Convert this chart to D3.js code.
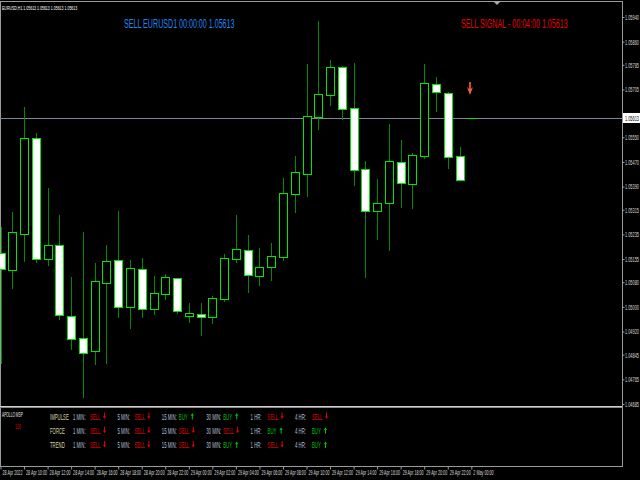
<!DOCTYPE html>
<html><head><meta charset="utf-8">
<script src="https://cdn.jsdelivr.net/npm/d3@7"></script>
<style>html,body{margin:0;padding:0;background:#000;overflow:hidden}svg{display:block}</style>
</head><body>
<script>
// ---------- DATA ----------
const symbol = "EURUSD,H1";
const times = ["28 Apr 08:00","28 Apr 09:00","28 Apr 10:00","28 Apr 11:00","28 Apr 12:00","28 Apr 13:00","28 Apr 14:00","28 Apr 15:00",
"28 Apr 16:00","28 Apr 17:00","28 Apr 18:00","28 Apr 19:00","28 Apr 20:00","28 Apr 21:00","28 Apr 22:00","28 Apr 23:00",
"29 Apr 00:00","29 Apr 01:00","29 Apr 02:00","29 Apr 03:00","29 Apr 04:00","29 Apr 05:00","29 Apr 06:00","29 Apr 07:00",
"29 Apr 08:00","29 Apr 09:00","29 Apr 10:00","29 Apr 11:00","29 Apr 12:00","29 Apr 13:00","29 Apr 14:00","29 Apr 15:00",
"29 Apr 16:00","29 Apr 17:00","29 Apr 18:00","29 Apr 19:00","29 Apr 20:00","29 Apr 21:00","29 Apr 22:00","29 Apr 23:00",
"2 May 00:00"];
const opens  = [1.05175,1.05120,1.05236,1.05548,1.05155,1.05201,1.04970,1.04899,1.04857,1.05077,1.05152,1.05000,1.05123,1.04993,1.05042,1.05094,1.04970,1.04977,1.04967,1.05026,1.05155,1.05184,1.05100,1.05129,1.05162,1.05366,1.05431,1.05616,1.05687,1.05778,1.05645,1.05447,1.05311,1.05337,1.05470,1.05398,1.05489,1.05723,1.05694,1.05489,1.05613];
const highs  = [1.05259,1.05308,1.05648,1.05564,1.05385,1.05298,1.05097,1.05243,1.05142,1.05201,1.05311,1.05152,1.05158,1.05100,1.05107,1.05094,1.05013,1.05013,1.05035,1.05171,1.05298,1.05233,1.05191,1.05207,1.05418,1.05489,1.05788,1.05927,1.05801,1.05781,1.05791,1.05473,1.05415,1.05593,1.05541,1.05499,1.05788,1.05745,1.05697,1.05518,1.05613];
const lows   = [1.04818,1.05061,1.05149,1.05146,1.05136,1.04961,1.04863,1.04708,1.04815,1.04818,1.04967,1.04931,1.04967,1.04977,1.05026,1.04980,1.04951,1.04909,1.04948,1.05019,1.05146,1.05048,1.05071,1.05087,1.05152,1.05308,1.05360,1.05577,1.05655,1.05609,1.05395,1.05097,1.05220,1.05184,1.05324,1.05321,1.05483,1.05635,1.05450,1.05411,1.05613];
const closes = [1.05123,1.05243,1.05548,1.05155,1.05201,1.04974,1.04896,1.04850,1.05084,1.05149,1.05000,1.05126,1.04993,1.05045,1.05097,1.04987,1.04980,1.04967,1.05029,1.05158,1.05188,1.05103,1.05129,1.05165,1.05369,1.05437,1.05619,1.05690,1.05778,1.05642,1.05444,1.05311,1.05337,1.05473,1.05402,1.05492,1.05726,1.05697,1.05486,1.05411,1.05613];
const currentPrice = 1.05613;
const priceTicks = [1.05940,1.05860,1.05785,1.05705,1.05625,1.05550,1.05470,1.05390,1.05315,1.05235,1.05155,1.05080,1.05000,1.04920,1.04845,1.04765,1.04685];
const xTickLabels = ["28 Apr 2022","28 Apr 10:00","28 Apr 12:00","28 Apr 14:00","28 Apr 16:00","28 Apr 18:00","28 Apr 20:00","28 Apr 22:00",
"29 Apr 00:00","29 Apr 02:00","29 Apr 04:00","29 Apr 06:00","29 Apr 08:00","29 Apr 10:00","29 Apr 12:00","29 Apr 14:00",
"29 Apr 16:00","29 Apr 18:00","29 Apr 20:00","29 Apr 22:00","2 May 00:00"];
const signalTextLeft = "SELL EURUSD1 00:00:00 1.05613";
const signalTextRight = "SELL SIGNAL - 00:04:00 1.05613";
const arrowIndex = 40;
const indicatorName = "APOLLO MSP";
const indicatorValue = "130";
const indRows = ["IMPULSE","FORCE","TREND"];
const indFrames = ["1 MIN:","5 MIN:","15 MIN:","30 MIN:","1 HR:","4 HR:"];
const indSignals = [
  ["SELL","SELL","BUY","BUY","SELL","SELL"],
  ["SELL","SELL","SELL","SELL","BUY","BUY"],
  ["SELL","SELL","SELL","BUY","SELL","BUY"]];

// ---------- LAYOUT ----------
const W = 640, H = 480;
const plotRight = 622, mainTop = 17, mainBottom = 404, sepY = 406, axisY = 466;
const FONT = "'Liberation Sans', Arial, sans-serif";
const wickColor = "#008a00", bodyStroke = "#00e600";

const svg = d3.select("body").append("svg").attr("width", W).attr("height", H)
  .style("background", "#000");
svg.append("rect").attr("width", W).attr("height", H).attr("fill", "#000");

const x = d3.scalePoint().domain(times).range([0.5, 471.3]);
const y = d3.scaleLinear().domain([1.04685, 1.05940]).range([mainBottom, mainTop]);

function ctext(g, px, py, str, size, color, sx, anchor) {
  return g.append("text")
    .attr("transform", `translate(${px},${py}) scale(${sx},1)`)
    .attr("font-family", FONT).attr("font-size", size)
    .attr("fill", color).attr("text-anchor", anchor || "start").text(str);
}

// frame
const frame = svg.append("g").attr("stroke", "#9a9a9a").attr("stroke-width", 1);
frame.append("line").attr("x1", 0).attr("x2", plotRight).attr("y1", 1.5).attr("y2", 1.5);
frame.append("line").attr("x1", 0.5).attr("x2", 0.5).attr("y1", 1).attr("y2", axisY);
frame.append("line").attr("x1", plotRight + 0.5).attr("x2", plotRight + 0.5).attr("y1", 1).attr("y2", axisY + 1);
frame.append("line").attr("x1", 0).attr("x2", plotRight + 1).attr("y1", axisY + 0.5).attr("y2", axisY + 0.5);
// separator between main and indicator window
svg.append("line").attr("x1", 0).attr("x2", plotRight).attr("y1", sepY + 0.5).attr("y2", sepY + 0.5).attr("stroke", "#d0d0d0");
svg.append("line").attr("x1", 0).attr("x2", plotRight).attr("y1", sepY + 1.5).attr("y2", sepY + 1.5).attr("stroke", "#8a8a8a");
// chart shift marker
svg.append("path").attr("d", "M493,1L501,1L497,5Z").attr("fill", "#a8a8a8");

// current price line
const cy = Math.round(y(currentPrice)) + 0.5;
svg.append("line").attr("x1", 0).attr("x2", plotRight).attr("y1", cy).attr("y2", cy)
  .attr("stroke", "#778899").attr("stroke-width", 1);

// candles
const candles = svg.append("g");
times.forEach((t, i) => {
  const cx = Math.round(x(t));
  const o = opens[i], c = closes[i], h = highs[i], l = lows[i];
  const g = candles.append("g");
  g.append("line").attr("x1", cx + 0.5).attr("x2", cx + 0.5)
    .attr("y1", Math.round(y(h))).attr("y2", Math.round(y(l)) + 1)
    .attr("stroke", wickColor).attr("stroke-width", 1);
  const top = Math.round(y(Math.max(o, c))), bot = Math.round(y(Math.min(o, c)));
  if (bot - top < 1) {
    g.append("line").attr("x1", cx - 4).attr("x2", cx + 5).attr("y1", top + 0.5).attr("y2", top + 0.5)
      .attr("stroke", bodyStroke);
  } else {
    g.append("rect").attr("x", cx - 3.5).attr("y", top + 0.5)
      .attr("width", 8).attr("height", bot - top)
      .attr("fill", c < o ? "#ffffff" : "#000000")
      .attr("stroke", bodyStroke).attr("stroke-width", 1);
  }
});

// sell arrow
const ax = Math.round(x(times[arrowIndex])) - 1;
svg.append("path")
  .attr("d", `M${ax - 0.8},82 L${ax + 0.8},82 L${ax + 0.8},89 L${ax + 3},87 L${ax},95 L${ax - 3},87 L${ax - 0.8},89 Z`)
  .attr("fill", "#f4603f");

// right price axis
const yAxis = svg.append("g").attr("transform", `translate(${plotRight + 0.5},0)`)
  .call(d3.axisRight(y).tickValues(priceTicks).tickSize(2).tickFormat(d3.format(".5f")));
yAxis.select(".domain").remove();
yAxis.selectAll(".tick line").attr("stroke", "#9a9a9a");
const SXA = 0.57;
yAxis.selectAll(".tick text")
  .attr("fill", "#dcdcdc").attr("font-family", FONT).attr("font-size", 6.8)
  .attr("x", 2.5 / SXA).attr("dy", "0.35em").attr("transform", `scale(${SXA},1)`);
// the label hidden behind the current-price box is not shown in the reference
yAxis.selectAll(".tick").filter(d => Math.abs(y(d) - cy) < 8).select("text").remove();

// current price label
svg.append("rect").attr("x", plotRight + 1).attr("y", cy - 5.5).attr("width", W - plotRight - 1).attr("height", 10)
  .attr("fill", "#ffffff");
ctext(svg, plotRight + 3, cy + 2.5, d3.format(".5f")(currentPrice), 6.8, "#000", SXA);

// bottom time axis
const tickTimes = times.filter((d, i) => i % 2 === 0);
const xAxis = svg.append("g").attr("transform", `translate(0,${axisY + 0.5})`)
  .call(d3.axisBottom(x).tickValues(tickTimes).tickSize(3).tickFormat((d, i) => xTickLabels[i]));
xAxis.select(".domain").remove();
xAxis.selectAll(".tick line").attr("stroke", "#9a9a9a");
xAxis.selectAll(".tick text")
  .attr("fill", "#dcdcdc").attr("font-family", FONT).attr("font-size", 6.5)
  .attr("text-anchor", "start").attr("x", 1.5 / SXA).attr("y", 4).attr("dy", "0.71em")
  .attr("transform", `scale(${SXA},1)`);

// header + signal texts
ctext(svg, 2, 10, `${symbol} ${[opens[40], highs[40], lows[40], closes[40]].map(d3.format(".5f")).join(" ")}`, 6.2, "#ffffff", SXA);
ctext(svg, 124, 28, signalTextLeft, 12.5, "#1e88f0", SXA);
ctext(svg, 461, 28, signalTextRight, 12.5, "#e80000", SXA);

// indicator window
const ind = svg.append("g");
ctext(ind, 2, 417, indicatorName, 6.5, "#e8e8e8", 0.5);
ctext(ind, 15, 429, indicatorValue, 7, "#e00000", 0.5);
const colX = d3.scaleLinear().domain([0, indFrames.length - 1]).range([73, 295]);
const rowY = d3.scaleLinear().domain([0, indRows.length - 1]).range([419.5, 448]);
const SXI = 0.45, FSI = 9.5;
indRows.forEach((r, i) => {
  const yy = rowY(i);
  ctext(ind, 50, yy, r, FSI, "#ddd5a8", SXI);
  indFrames.forEach((f, j) => {
    const xx = colX(j);
    ctext(ind, xx, yy, f, FSI, "#b8c0d8", SXI);
    const s = indSignals[i][j];
    const col = s === "SELL" ? "#e00000" : "#00c000";
    ctext(ind, xx + 17, yy, s, FSI, col, SXI);
    const axx = xx + (s === "SELL" ? 31.5 : 30.5);
    if (s === "SELL") {
      ind.append("path").attr("d", `M${axx - 0.5},${yy - 7} L${axx + 0.5},${yy - 7} L${axx + 0.5},${yy - 3} L${axx + 1.8},${yy - 3.5} L${axx},${yy - 0.5} L${axx - 1.8},${yy - 3.5} L${axx - 0.5},${yy - 3} Z`).attr("fill", col);
    } else {
      ind.append("path").attr("d", `M${axx - 0.5},${yy} L${axx + 0.5},${yy} L${axx + 0.5},${yy - 4} L${axx + 1.8},${yy - 3.5} L${axx},${yy - 6.5} L${axx - 1.8},${yy - 3.5} L${axx - 0.5},${yy - 4} Z`).attr("fill", col);
    }
  });
});
</script>
</body></html>
